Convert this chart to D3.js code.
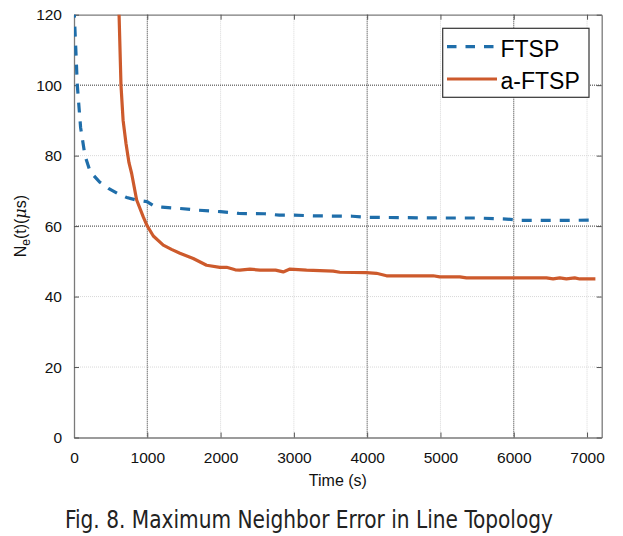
<!DOCTYPE html>
<html><head><meta charset="utf-8">
<script src="https://cdn.jsdelivr.net/npm/d3@7"></script>
<style>body{margin:0;background:#fff}svg{display:block}</style>
</head><body>
<svg id="c" width="623" height="536"></svg>
<script>
const seriesNames = ["FTSP", "a-FTSP"];
const ftspTime  = [0, 25, 45, 90, 150, 220, 350, 470, 600, 720, 850, 1000, 1100, 1200, 1450, 1700, 2000, 2250, 2600, 2800, 3000, 3300, 3800, 4000, 4500, 5000, 5500, 5900, 6100, 6500, 7100];
const ftspValue = [122, 110, 100, 88, 80, 75.5, 72.5, 70.7, 69.2, 68.1, 67.4, 66.9, 65.6, 65.4, 65.0, 64.5, 64.1, 63.6, 63.5, 63.1, 63.1, 62.9, 62.8, 62.5, 62.4, 62.3, 62.3, 62.0, 61.6, 61.6, 61.7];
const aftspTime  = [600, 615, 641, 670, 709, 750, 786, 855, 945, 995, 1082, 1218, 1330, 1445, 1627, 1809, 1990, 2082, 2200, 2264, 2400, 2537, 2750, 2855, 2946, 3173, 3537, 3627, 3991, 4127, 4264, 4900, 4991, 5264, 5355, 6446, 6537, 6628, 6718, 6832, 6900, 7114];
const aftspValue = [125, 120, 100, 90, 83.5, 78, 75, 67.4, 62.6, 60.2, 57.2, 54.6, 53.4, 52.3, 50.8, 48.9, 48.3, 48.3, 47.6, 47.5, 47.8, 47.5, 47.5, 47.0, 47.8, 47.5, 47.2, 46.9, 46.8, 46.6, 45.9, 45.9, 45.6, 45.6, 45.3, 45.3, 45.0, 45.3, 45.0, 45.3, 45.0, 45.0];
const xTicks = [0, 1000, 2000, 3000, 4000, 5000, 6000, 7000];
const yTicks = [0, 20, 40, 60, 80, 100, 120];
const darkXGrid = [1000, 4000, 6000];
const darkYGrid = [60, 100];
const xLabel = "Time (s)";
const caption = "Fig. 8. Maximum Neighbor Error in Line Topology";

const svg = d3.select("#c");
const L = 74, R = 601.7, T = 14.7, B = 437.5;
const x = d3.scaleLinear().domain([0, 7200]).range([L, R]);
const y = d3.scaleLinear().domain([0, 120]).range([B, T]);
const font = "'Liberation Sans', Arial, sans-serif";

svg.append("clipPath").attr("id", "clip").append("rect")
  .attr("x", L).attr("y", T).attr("width", R - L).attr("height", B - T);

// grid
const g = svg.append("g");
xTicks.filter(d => d > 0).forEach(d => {
  const dark = darkXGrid.includes(d);
  g.append("line").attr("x1", x(d)).attr("x2", x(d)).attr("y1", T).attr("y2", B)
    .attr("stroke", dark ? "#333" : "#d8d8d8").attr("stroke-width", 1)
    .attr("stroke-dasharray", "1,1");
});
yTicks.filter(d => d > 0 && d < 120).forEach(d => {
  const dark = darkYGrid.includes(d);
  g.append("line").attr("y1", y(d)).attr("y2", y(d)).attr("x1", L).attr("x2", R)
    .attr("stroke", dark ? "#333" : "#d8d8d8").attr("stroke-width", 1)
    .attr("stroke-dasharray", "1,1");
});

// axes with ticks (inward, all four sides)
const fmt = d3.format("d");
const axB = svg.append("g").attr("transform", `translate(0,${B})`)
  .call(d3.axisBottom(x).tickValues(xTicks).tickFormat(fmt).tickSize(-5).tickPadding(14).tickSizeOuter(0));
const axT = svg.append("g").attr("transform", `translate(0,${T})`)
  .call(d3.axisTop(x).tickValues(xTicks).tickSize(-5).tickFormat("").tickSizeOuter(0));
const axL = svg.append("g").attr("transform", `translate(${L},0)`)
  .call(d3.axisLeft(y).tickValues(yTicks).tickFormat(fmt).tickSize(-5).tickPadding(12).tickSizeOuter(0));
const axR = svg.append("g").attr("transform", `translate(${R},0)`)
  .call(d3.axisRight(y).tickValues(yTicks).tickSize(-5).tickFormat("").tickSizeOuter(0));
[axB, axT, axL, axR].forEach(a => {
  a.attr("font-family", font).attr("font-size", 15.5);
  a.select(".domain").attr("stroke", "#7a7a7a").attr("stroke-width", 1.3);
  a.selectAll(".tick line").attr("stroke", "#555");
  a.selectAll("text").attr("font-family", font).attr("font-size", 15.5).attr("fill", "#111");
});

// lines
const line = d3.line().x(d => x(d[0])).y(d => y(d[1]));
const ftsp = ftspTime.map((t, i) => [t, ftspValue[i]]);
const aftsp = aftspTime.map((t, i) => [t, aftspValue[i]]);
const lg = svg.append("g").attr("clip-path", "url(#clip)");
lg.append("path").datum(ftsp).attr("d", line).attr("fill", "none")
  .attr("stroke", "#1f6eaa").attr("stroke-width", 3.2).attr("stroke-dasharray", "10,9");
lg.append("path").datum(aftsp).attr("d", line).attr("fill", "none")
  .attr("stroke", "#cd5a2c").attr("stroke-width", 3.2).attr("stroke-linejoin", "round");

// legend
const leg = svg.append("g");
leg.append("rect").attr("x", 442.7).attr("y", 28.3).attr("width", 146.3).attr("height", 69)
  .attr("fill", "#fff").attr("stroke", "#333").attr("stroke-width", 1.2);
leg.append("line").attr("x1", 447).attr("x2", 497).attr("y1", 46.7).attr("y2", 46.7)
  .attr("stroke", "#1f6eaa").attr("stroke-width", 3.2).attr("stroke-dasharray", "9.5,9");
leg.append("line").attr("x1", 447).attr("x2", 497).attr("y1", 79).attr("y2", 79)
  .attr("stroke", "#cd5a2c").attr("stroke-width", 3.2);
leg.append("text").attr("x", 500.5).attr("y", 56.7).text(seriesNames[0])
  .attr("font-family", font).attr("font-size", 23).attr("fill", "#000");
leg.append("text").attr("x", 500.5).attr("y", 89.3).text(seriesNames[1])
  .attr("font-family", font).attr("font-size", 23).attr("fill", "#000");

// axis labels
svg.append("text").attr("x", (L + R) / 2).attr("y", 486).attr("text-anchor", "middle")
  .attr("font-family", font).attr("font-size", 16).attr("fill", "#111").text(xLabel);
const yl = svg.append("text").attr("transform", `translate(26,${(T + B) / 2}) rotate(-90)`)
  .attr("text-anchor", "middle").attr("font-family", font).attr("font-size", 16).attr("fill", "#111");
yl.append("tspan").text("N");
yl.append("tspan").attr("dy", 4).attr("font-size", 12).text("e");
yl.append("tspan").attr("dy", -4).text("(t)(");
yl.append("tspan").attr("font-style", "italic").attr("font-family", "'DejaVu Serif', serif").text("\u03bc");
yl.append("tspan").text("s)");

// caption
svg.append("text").attr("x", 65).attr("y", 528).attr("textLength", 488).attr("lengthAdjust", "spacingAndGlyphs")
  .attr("font-family", "'Liberation Sans Narrow', 'DejaVu Sans Condensed', sans-serif")
  .attr("font-size", 25).attr("fill", "#222").text(caption);
</script>
</body></html>
